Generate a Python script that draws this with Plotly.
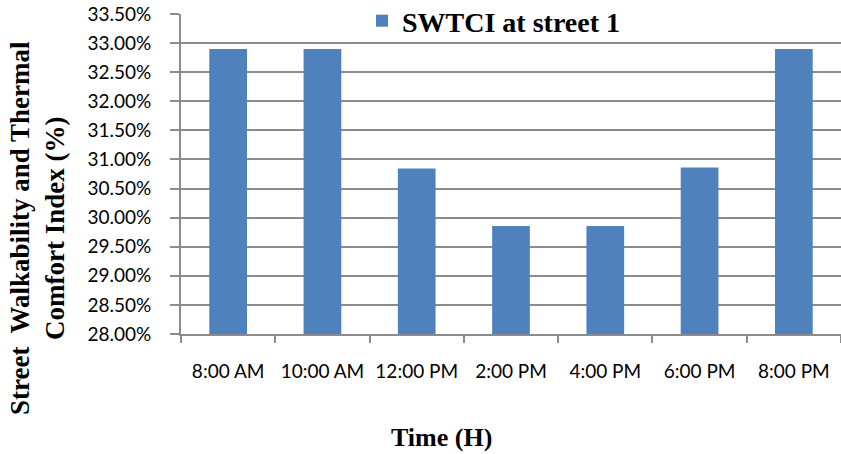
import plotly.graph_objects as go

categories = ["8:00 AM", "10:00 AM", "12:00 PM", "2:00 PM", "4:00 PM", "6:00 PM", "8:00 PM"]
swtci_street1 = [0.3290, 0.3290, 0.30845, 0.29855, 0.29855, 0.30860, 0.3290]
series_name = "SWTCI at street 1"
y_title = "Street  Walkability and Thermal<br>Comfort Index (%)"
x_title = "Time (H)"

W, H = 841, 454
L, R, T, B = 181, 0, 14, 120
pw, ph = W - L - R, H - T - B

def px_to_paper_x(px):
    return (px - L) / pw

def px_to_paper_y(py):
    return (H - B - py) / ph

grid = "#8c8c8c"
serif = "Liberation Serif, Times New Roman, serif"
sans = "Lato, Open Sans, sans-serif"

fig = go.Figure()
fig.add_trace(go.Bar(
    x=categories, y=swtci_street1, name=series_name,
    marker=dict(color="#4F81BD", line=dict(width=0)),
    showlegend=True,
))

fig.update_layout(
    width=W, height=H,
    margin=dict(l=L, r=R, t=T, b=B, pad=0, autoexpand=False),
    paper_bgcolor="white", plot_bgcolor="white",
    bargap=0.6,
    showlegend=True,
    legend=dict(
        x=px_to_paper_x(362), y=px_to_paper_y(-4), xanchor="left", yanchor="top",
        bgcolor="rgba(0,0,0,0)", borderwidth=0,
        font=dict(family=serif, size=28, color="black", weight="bold"),
        itemwidth=30,
    ),
    xaxis=dict(
        type="category",
        showgrid=False,
        showline=True, linecolor=grid, linewidth=2,
        ticks="outside", tickson="boundaries", ticklen=7, tickcolor=grid, tickwidth=1.5,
        tickfont=dict(family=sans, size=19, color="black"),
        ticklabelstandoff=19,
        range=[-0.5, 6.5],
    ),
    yaxis=dict(
        range=[0.28, 0.335], dtick=0.005, tick0=0.28,
        tickformat=".2%",
        showgrid=True, gridcolor=grid, gridwidth=2,
        showline=True, linecolor=grid, linewidth=2,
        ticks="outside", ticklen=9, tickcolor=grid, tickwidth=1.5,
        tickfont=dict(family=sans, size=19, color="black"),
        ticklabelstandoff=15,
        zeroline=False,
    ),
    annotations=[
        dict(text=y_title, textangle=-90, showarrow=False,
             xref="paper", yref="paper",
             x=px_to_paper_x(37), y=px_to_paper_y(228),
             xanchor="center", yanchor="middle",
             font=dict(family=serif, size=27, color="black", weight="bold")),
        dict(text=x_title, showarrow=False,
             xref="paper", yref="paper",
             x=px_to_paper_x(441.5), y=px_to_paper_y(437),
             xanchor="center", yanchor="middle",
             font=dict(family=serif, size=26, color="black", weight="bold")),
    ],
)

fig.write_html(
    "out.html",
    config={"displayModeBar": False},
    post_script="document.body.style.margin='0';document.body.style.overflow='hidden';",
)
